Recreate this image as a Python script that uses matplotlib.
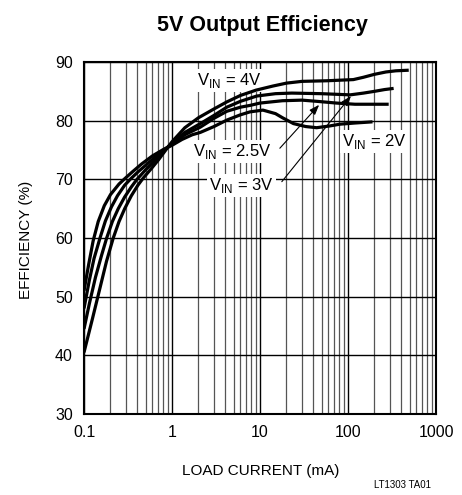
import matplotlib
matplotlib.use('Agg')
import matplotlib.pyplot as plt
from matplotlib import font_manager
from matplotlib.ticker import LogLocator, NullLocator, FixedLocator, FixedFormatter

plt.rcParams['font.family'] = ['Liberation Sans', 'DejaVu Sans']
plt.rcParams['mathtext.fontset'] = 'custom'
plt.rcParams['mathtext.rm'] = 'Liberation Sans'

# load current (mA) and efficiency (%)
i_2v = [0.1, 0.113, 0.127, 0.145, 0.17, 0.2, 0.25, 0.29, 0.35, 0.45, 0.6, 0.8, 1.0, 1.3,
        1.7, 2.1, 3.0, 4.2, 6.0, 7.7, 10.8, 15, 18, 24, 33, 44, 62, 81, 120, 190]
eff_2v = [51.0, 55.5, 59.5, 62.8, 65.5, 67.4, 69.2, 70.1, 71.2, 72.6, 74.0, 75.1, 75.8, 76.8,
          77.6, 78.0, 79.0, 80.1, 81.0, 81.5, 81.8, 81.2, 80.5, 79.5, 79.0, 78.8, 79.1, 79.4,
          79.6, 79.8]

i_25v = [0.1, 0.115, 0.13, 0.152, 0.175, 0.205, 0.24, 0.29, 0.34, 0.42, 0.53, 0.73, 1.0,
         1.4, 2.1, 3.0, 4.2, 6.0, 7.7, 10, 18, 30, 44, 74, 120, 200, 290]
eff_25v = [48.0, 52.8, 56.5, 60.0, 62.9, 65.3, 67.2, 69.0, 70.1, 71.4, 72.7, 74.5, 76.0,
           77.6, 78.9, 80.4, 81.6, 82.3, 82.6, 83.0, 83.4, 83.5, 83.3, 83.0, 82.8, 82.8, 82.8]

i_3v = [0.1, 0.115, 0.135, 0.158, 0.181, 0.21, 0.245, 0.29, 0.345, 0.4, 0.5, 0.62, 0.8, 1.0,
        1.4, 2.1, 3.0, 4.2, 6.0, 9.2, 15, 23, 50, 106, 150, 200, 260, 330]
eff_3v = [44.5, 48.8, 53.3, 57.0, 60.0, 62.8, 65.0, 67.0, 68.7, 70.0, 71.6, 73.0, 74.8, 76.2,
          78.0, 79.5, 80.9, 82.3, 83.3, 84.2, 84.6, 84.7, 84.6, 84.4, 84.7, 85.0, 85.3, 85.5]

i_4v = [0.1, 0.125, 0.152, 0.18, 0.215, 0.25, 0.29, 0.345, 0.41, 0.47, 0.58, 0.7, 0.85, 1.0,
        1.4, 2.0, 3.0, 4.2, 6.0, 9.0, 14, 20, 30, 57, 115, 150, 200, 270, 350, 490]
eff_4v = [40.5, 46.3, 51.5, 56.0, 60.0, 62.8, 65.0, 67.2, 69.0, 70.2, 71.8, 73.3, 75.0, 76.4,
          78.8, 80.5, 82.0, 83.2, 84.3, 85.2, 85.9, 86.4, 86.7, 86.8, 87.0, 87.4, 87.9, 88.3,
          88.5, 88.6]

x_ticks = [0.1, 1, 10, 100, 1000]
x_labels = ['0.1', '1', '10', '100', '1000']
y_ticks = [30, 40, 50, 60, 70, 80, 90]

# the title is a condensed bold face; use a narrow family when one is installed
installed = {f.name for f in font_manager.fontManager.ttflist}
if 'Liberation Sans Narrow' in installed:
    title_family, title_size = 'Liberation Sans Narrow', 18.5
elif 'DejaVu Sans Condensed' in installed:
    title_family, title_size = 'DejaVu Sans Condensed', 16
else:
    title_family, title_size = 'Liberation Sans', 15.5

fig = plt.figure(figsize=(4.62, 4.95), dpi=100)
ax = fig.add_axes([84 / 462, 1 - 414 / 495, 352 / 462, 352 / 495])

ax.set_xscale('log')
ax.set_xlim(0.1, 1000)
ax.set_ylim(30, 90)
ax.xaxis.set_major_locator(FixedLocator(x_ticks))
ax.xaxis.set_major_formatter(FixedFormatter(x_labels))
ax.xaxis.set_minor_locator(LogLocator(base=10, subs=range(2, 10)))
ax.set_yticks(y_ticks)
ax.yaxis.set_minor_locator(NullLocator())
ax.tick_params(which='both', length=0, labelsize=11.5, pad=8)
ax.grid(which='major', color='black', lw=1.0)
ax.grid(which='minor', axis='x', color='#555555', lw=0.9)
ax.set_axisbelow(True)
for s in ax.spines.values():
    s.set_linewidth(1.5)

for xs, ys in [(i_2v, eff_2v), (i_25v, eff_25v), (i_3v, eff_3v), (i_4v, eff_4v)]:
    ax.plot(xs, ys, color='black', lw=2.3, solid_capstyle='butt', zorder=3)

box = dict(facecolor='white', edgecolor='none', pad=1.5)
ax.text(4.5, 86.9, r'V$_{\rm IN}$ = 4V', fontsize=12, ha='center', va='center', bbox=box, zorder=2)
ax.text(4.9, 74.7, r'V$_{\rm IN}$ = 2.5V', fontsize=12, ha='center', va='center', bbox=box, zorder=2)
ax.text(6.2, 69.0, r'V$_{\rm IN}$ = 3V', fontsize=12, ha='center', va='center', bbox=box, zorder=2)
ax.text(200, 76.4, r'V$_{\rm IN}$ = 2V', fontsize=12, ha='center', va='center', bbox=box, zorder=2)

arrow = dict(arrowstyle='-|>,head_length=0.6,head_width=0.22', color='black', lw=0.8,
             shrinkA=0, shrinkB=0)
ax.annotate('', xy=(47, 82.7), xytext=(16.8, 75.3), arrowprops=arrow, zorder=4)
ax.annotate('', xy=(108, 84.2), xytext=(17.7, 69.6), arrowprops=arrow, zorder=4)

fig.text(262 / 462, 1 - 31 / 495, '5V Output Efficiency', fontsize=title_size,
         fontweight='bold', family=[title_family, 'Liberation Sans'],
         ha='center', va='baseline')
fig.text(26 / 462, 1 - 240 / 495, 'EFFICIENCY (%)', fontsize=11, rotation=90,
         ha='center', va='center')
fig.text(261 / 462, 1 - 471 / 495, 'LOAD CURRENT (mA)', fontsize=11, ha='center', va='center')
fig.text(403 / 462, 1 - 485 / 495, 'LT1303 TA01', fontsize=7, ha='center', va='center')

fig.savefig('out.png', dpi=100)
